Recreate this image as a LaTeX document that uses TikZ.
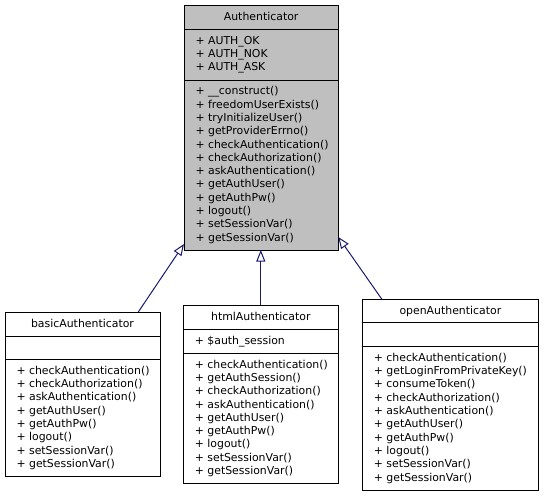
\documentclass[tikz,border=0pt]{standalone}
\usepackage{fontspec}
\setmainfont{DejaVu Sans}
\usetikzlibrary{arrows.meta}
\definecolor{umlgray}{RGB}{191,191,191}
\definecolor{edgeblue}{RGB}{25,25,112}
\begin{document}
\begin{tikzpicture}[x=1pt,y=-1pt,
  sect/.style={draw=black, line width=1pt, inner sep=0pt, outer sep=0pt, anchor=north west},
  base/.style={sect, fill=umlgray},
  txt/.style={font=\fontsize{10.9}{13.3}\selectfont, inner sep=0pt, anchor=base west},
  ttl/.style={font=\fontsize{10.9}{13.3}\selectfont, inner sep=0pt, anchor=base},
  inherit/.style={draw=edgeblue, line width=1pt, -{Triangle[open, length=11.5pt, width=9pt]}}
]
\useasboundingbox (0,0) rectangle (544,496);

% ---------- Authenticator ----------
\node[base, minimum width=154.3pt, minimum height=24.3pt] (auth) at (184,5) {};
\node[base, minimum width=154.3pt, minimum height=50.7pt] (auth-a) at (auth.south west) {};
\node[base, minimum width=154.3pt, minimum height=170pt] (auth-m) at (auth-a.south west) {};
\node[ttl] (auth-t) at ([yshift=-15.3pt]auth.north) {Authenticator};
\foreach \t [count=\i from 0] in {AUTH\_OK, AUTH\_NOK, AUTH\_ASK}
  \node[txt] (aa\i) at ([xshift=11.3pt,yshift={-14.8pt-\i*13.3pt}]auth-a.north west) {+ \t};
\foreach \t [count=\i from 0] in {\_\_construct(), freedomUserExists(), tryInitializeUser(), getProviderErrno(), checkAuthentication(), checkAuthorization(), askAuthentication(), getAuthUser(), getAuthPw(), logout(), setSessionVar(), getSessionVar()}
  \node[txt] (am\i) at ([xshift=11.3pt,yshift={-14.8pt-\i*13.3pt}]auth-m.north west) {+ \t};

% ---------- basicAuthenticator ----------
\node[sect, minimum width=155pt, minimum height=24pt] (basic) at (5,312) {};
\node[sect, minimum width=155pt, minimum height=23.5pt] (basic-a) at (basic.south west) {};
\node[sect, minimum width=155pt, minimum height=117.2pt] (basic-m) at (basic-a.south west) {};
\node[ttl] (basic-t) at ([yshift=-15.3pt]basic.north) {basicAuthenticator};
\foreach \t [count=\i from 0] in {checkAuthentication(), checkAuthorization(), askAuthentication(), getAuthUser(), getAuthPw(), logout(), setSessionVar(), getSessionVar()}
  \node[txt] (bm\i) at ([xshift=11.3pt,yshift={-14.8pt-\i*13.3pt}]basic-m.north west) {+ \t};

% ---------- htmlAuthenticator ----------
\node[sect, minimum width=155pt, minimum height=24.3pt] (html) at (183.3,305) {};
\node[sect, minimum width=155pt, minimum height=24pt] (html-a) at (html.south west) {};
\node[sect, minimum width=155pt, minimum height=130.2pt] (html-m) at (html-a.south west) {};
\node[ttl] (html-t) at ([yshift=-15.3pt]html.north) {htmlAuthenticator};
\node[txt] (ha0) at ([xshift=11.3pt,yshift=-14.8pt]html-a.north west) {+ \$auth\_session};
\foreach \t [count=\i from 0] in {checkAuthentication(), getAuthSession(), checkAuthorization(), askAuthentication(), getAuthUser(), getAuthPw(), logout(), setSessionVar(), getSessionVar()}
  \node[txt] (hm\i) at ([xshift=11.3pt,yshift={-14.8pt-\i*13.3pt}]html-m.north west) {+ \t};

% ---------- openAuthenticator ----------
\node[sect, minimum width=176.2pt, minimum height=23.3pt] (open) at (362.3,299) {};
\node[sect, minimum width=176.2pt, minimum height=24.2pt] (open-a) at (open.south west) {};
\node[sect, minimum width=176.2pt, minimum height=143.7pt] (open-m) at (open-a.south west) {};
\node[ttl] (open-t) at ([yshift=-15.3pt]open.north) {openAuthenticator};
\foreach \t [count=\i from 0] in {checkAuthentication(), getLoginFromPrivateKey(), consumeToken(), checkAuthorization(), askAuthentication(), getAuthUser(), getAuthPw(), logout(), setSessionVar(), getSessionVar()}
  \node[txt] (om\i) at ([xshift=11.3pt,yshift={-14.8pt-\i*13.3pt}]open-m.north west) {+ \t};

% ---------- inheritance ----------
\draw[inherit] ([xshift=133.3pt]basic.north west) -- ([yshift=6pt]auth-m.south west);
\draw[inherit] (html.north) -- (html.north |- auth-m.south);
\draw[inherit] ([xshift=19.4pt]open.north west) -- ([yshift=13pt]auth-m.south east);
\end{tikzpicture}
\end{document}
